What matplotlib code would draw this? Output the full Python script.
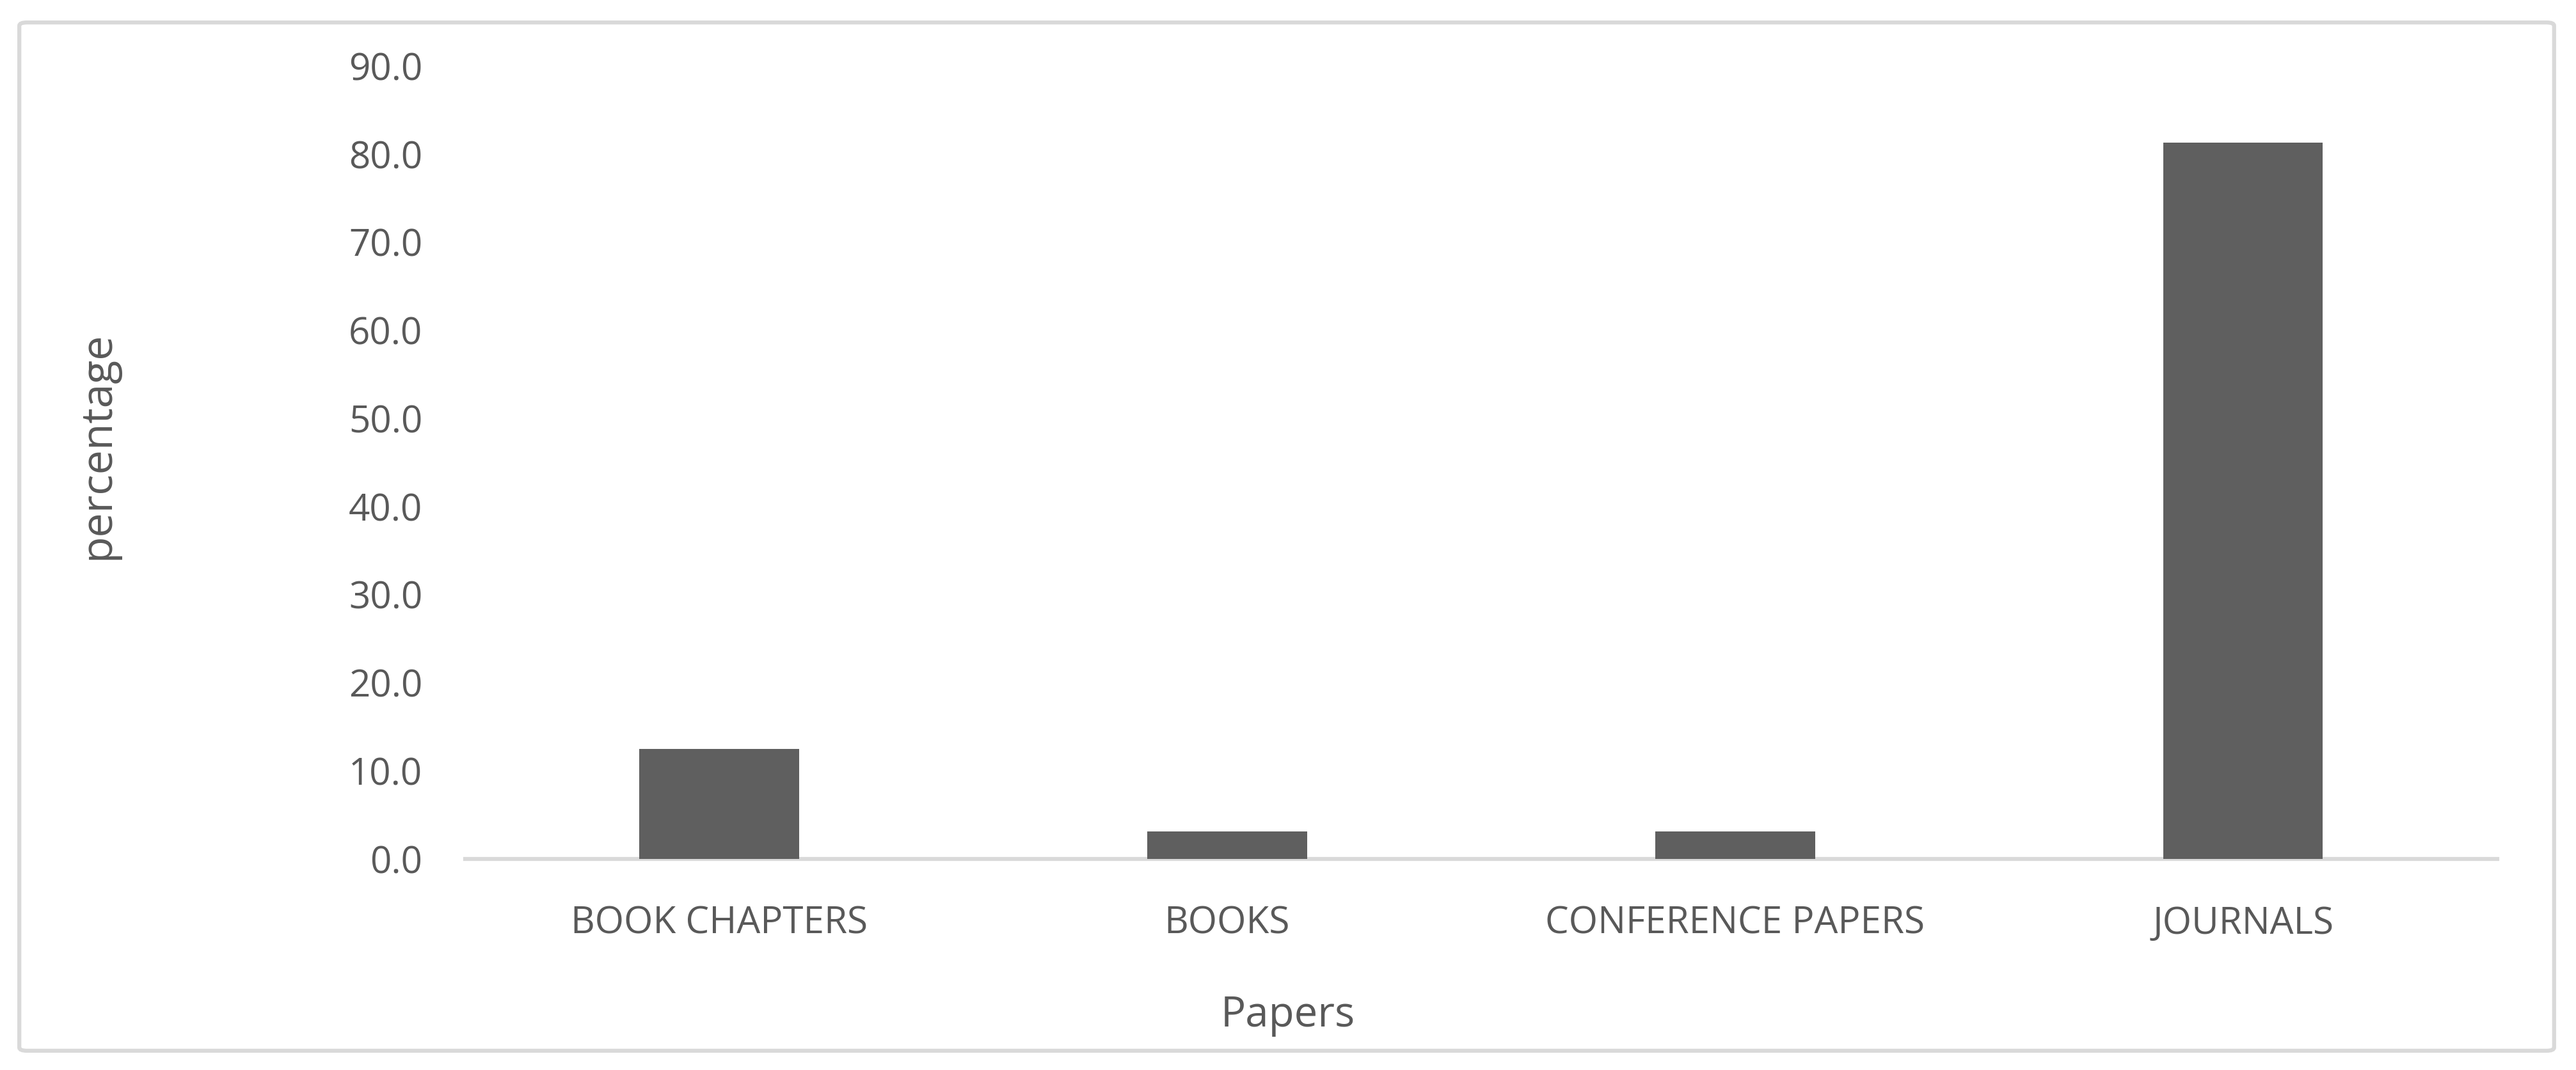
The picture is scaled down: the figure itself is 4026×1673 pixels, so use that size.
import matplotlib.pyplot as plt
from matplotlib.patches import FancyBboxPatch

# data
categories = ["BOOK CHAPTERS", "BOOKS", "CONFERENCE PAPERS", "JOURNALS"]
percentages = [12.5, 3.1, 3.1, 81.3]
y_ticks = [0, 10, 20, 30, 40, 50, 60, 70, 80, 90]

plt.rcParams['font.family'] = ['Open Sans', 'DejaVu Sans']
text_col = '#595959'
grid_col = '#D9D9D9'

fig = plt.figure(figsize=(40.26, 16.73), dpi=100)
ax = fig.add_axes([0.1806, 0.1973, 0.7888, 0.7411])

x = list(range(len(categories)))
ax.bar(x, percentages, width=0.314, color='#5F5F5F', zorder=3)

ax.set_xlim(-0.5, len(categories) - 0.5)
ax.set_ylim(0, 90)
ax.set_yticks(y_ticks)
ax.set_yticklabels([f"{v:.1f}" for v in y_ticks])
ax.set_xticks(x)
ax.set_xticklabels(categories)

for s in ['top', 'right', 'left']:
    ax.spines[s].set_visible(False)
ax.spines['bottom'].set_color(grid_col)
ax.spines['bottom'].set_linewidth(4.5)
ax.tick_params(axis='both', length=0, labelsize=42, colors=text_col)
ax.tick_params(axis='y', pad=48)
ax.tick_params(axis='x', pad=52)

fig.text(0.5, 0.051, "Papers", ha='center', va='center', fontsize=47, color=text_col)
fig.text(0.038, 0.5834, "percentage", ha='center', va='center', rotation=90,
         fontsize=49, color=text_col)

# outer chart border
border = FancyBboxPatch((0.0075, 0.018), 0.984, 0.961, boxstyle="round,pad=0,rounding_size=0.003",
                        transform=fig.transFigure, fill=False, edgecolor=grid_col, linewidth=4.5)
fig.patches.append(border)

fig.savefig("out.png", dpi=100)
